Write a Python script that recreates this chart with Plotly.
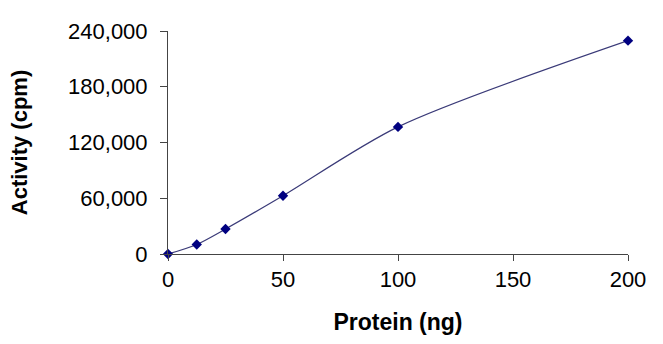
import plotly.graph_objects as go

protein_ng = [0, 12.5, 25, 50, 100, 200]
activity_cpm = [0, 10300, 26900, 62700, 136800, 229600]
y_ticks = [0, 60000, 120000, 180000, 240000]
y_tick_labels = ["0", "60,000", "120,000", "180,000", "240,000"]
x_ticks = [0, 50, 100, 150, 200]

fig = go.Figure(go.Scatter(
    x=protein_ng, y=activity_cpm, mode="lines+markers",
    line=dict(color="#3a3a78", width=1.2, shape="spline", smoothing=0.8),
    marker=dict(symbol="diamond", size=8, color="#000080"),
    cliponaxis=False,
))

font = "Liberation Sans, Arial, sans-serif"
fig.update_layout(
    width=663, height=344,
    margin=dict(l=168, r=35, t=31, b=90),
    plot_bgcolor="white", paper_bgcolor="white",
    showlegend=False,
    font=dict(family=font, size=22, color="black"),
    xaxis=dict(
        range=[0, 200], tickvals=x_ticks, showgrid=False, zeroline=False,
        showline=True, linecolor="#444", linewidth=1,
        ticks="outside", ticklen=6, tickcolor="#444",
        tickfont=dict(size=22),
        title=dict(text="<b>Protein (ng)</b>", font=dict(size=23), standoff=22),
    ),
    yaxis=dict(
        range=[0, 240000], tickvals=y_ticks, ticktext=y_tick_labels,
        showgrid=False, zeroline=False,
        showline=True, linecolor="#444", linewidth=1,
        ticks="outside", ticklen=7, tickcolor="#444",
        ticklabelstandoff=8,
        tickfont=dict(size=22),
        title=dict(text="<b>Activity (cpm)</b>", font=dict(size=22), standoff=34),
    ),
)

fig.write_html("out.html")
